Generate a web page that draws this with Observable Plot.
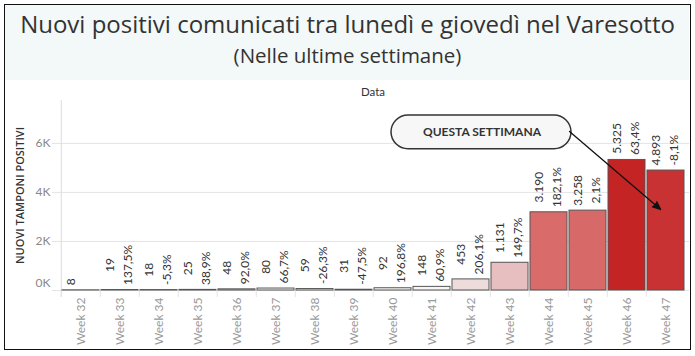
<!DOCTYPE html>
<html>
<head>
<meta charset="utf-8">
<script src="https://cdn.jsdelivr.net/npm/d3@7"></script>
<script src="https://cdn.jsdelivr.net/npm/@observablehq/plot@0.6"></script>
<style>
  body { margin: 0; background: #fff; font-family: Lato, "Open Sans", sans-serif; }
  #page { position: relative; width: 695px; height: 356px; overflow: hidden; background: #fff; }
  #band { position: absolute; left: 5px; top: 5px; width: 684px; height: 75px; background: #f3f8f8; }
  #title { position: absolute; left: 0; top: 7px; width: 695px; text-align: center; font-family: "Open Sans", sans-serif; font-size: 24px; color: #333; white-space: nowrap; }
  #subtitle { position: absolute; left: 0; top: 41px; width: 695px; text-align: center; font-family: "Open Sans", sans-serif; font-size: 20.5px; color: #333; white-space: nowrap; }
  #header { position: absolute; left: 57px; top: 85px; width: 632px; text-align: center; font-size: 11.5px; color: #333; }
  #chart { position: absolute; left: 0; top: 80px; }
  #border { position: absolute; left: 4px; top: 4px; width: 687px; height: 346px; border: 1.5px solid #111; box-sizing: border-box; pointer-events: none; }
</style>
</head>
<body>
<div id="page">
  <div id="band"></div>
  <div id="title">Nuovi positivi comunicati tra lunedì e giovedì nel Varesotto</div>
  <div id="subtitle">(Nelle ultime settimane)</div>
  <div id="header">Data</div>
  <div id="chart"></div>
  <div id="border"></div>
</div>
<script>
// ---- data ----
const weeks = ["Week 32","Week 33","Week 34","Week 35","Week 36","Week 37","Week 38","Week 39",
               "Week 40","Week 41","Week 42","Week 43","Week 44","Week 45","Week 46","Week 47"];
const positives = [8, 19, 18, 25, 48, 80, 59, 31, 92, 148, 453, 1131, 3190, 3258, 5325, 4893];
const changeLabels = ["", "137,5%", "-5,3%", "38,9%", "92,0%", "66,7%", "-26,3%", "-47,5%",
                      "196,8%", "60,9%", "206,1%", "149,7%", "182,1%", "2,1%", "63,4%", "-8,1%"];
const yTicks = [0, 2000, 4000, 6000];
const yTickLabels = ["0K", "2K", "4K", "6K"];
const colorStops = [0, 453, 1131, 3190, 5325];
const colorRange = ["#ffffff", "#eedcdc", "#e8bfc0", "#d96b6b", "#c42424"];
const yAxisTitle = "NUOVI TAMPONI POSITIVI";
const calloutText = "QUESTA SETTIMANA";
const calloutAnchorWeek = "Week 42";
const arrowFromWeek = "Week 44";
const arrowToWeek = "Week 47";

// ---- build ----
const it = d3.formatLocale({decimal: ",", thousands: ".", grouping: [3], currency: ["", "€"]});
const fmtInt = it.format(",");
const rows = weeks.map((w, i) => ({week: w, value: positives[i], change: changeLabels[i]}));

const W = 695, H = 270, mL = 57, mR = 6, mT = 20, mB = 60;
const step = (W - mL - mR) / weeks.length;
const tickLab = d => yTickLabels[yTicks.indexOf(d)];
const labelSize = 12, labelLineHeight = 1.5;

const chart = Plot.plot({
  width: W, height: H,
  marginLeft: mL, marginRight: mR, marginTop: mT, marginBottom: mB,
  style: {fontFamily: "Lato, 'Open Sans', sans-serif", background: "transparent", overflow: "visible"},
  x: {type: "band", domain: weeks, padding: 0.05, label: null, axis: null},
  y: {domain: [0, 7750], label: null, axis: null},
  color: {type: "linear", domain: colorStops, range: colorRange},
  marks: [
    Plot.gridY(yTicks, {stroke: "#e4e4e4", strokeOpacity: 1, insetLeft: -5}),
    Plot.ruleX([weeks[0]], {dx: -step / 2, stroke: "#dcdcdc", insetBottom: -7}),
    Plot.axisX({tickSize: 7, tickFormat: () => "", dx: -step / 2, stroke: "#e4e4e4", label: null}),
    Plot.axisX({tickSize: 0, tickRotate: -90, tickPadding: 7, fontSize: 12, fill: "#999", label: null}),
    Plot.axisY(yTicks.slice(1), {tickSize: 0, tickPadding: 7, tickFormat: tickLab, fontSize: 12, fill: "#888", label: null}),
    Plot.axisY(yTicks.slice(0, 1), {tickSize: 0, tickPadding: 7, tickFormat: tickLab, fontSize: 12, fill: "#888", dy: -7, label: null}),
    Plot.text([yAxisTitle], {frameAnchor: "left", textAnchor: "middle", rotate: -90, dx: -37, fontSize: 11,
      fontWeight: 600, fontFamily: "'Open Sans', sans-serif", fill: "#333", text: d => d}),
    Plot.barY(rows, {x: "week", y: "value", fill: "value", stroke: "#555", strokeWidth: 1}),
    Plot.text(rows, {x: "week", y: "value", text: d => d.change ? `${fmtInt(d.value)}\n${d.change}` : fmtInt(d.value),
      rotate: -90, textAnchor: "middle", lineAnchor: "middle", lineHeight: labelLineHeight, fontSize: labelSize, fill: "#333"}),
    Plot.barY([calloutText], {x: () => calloutAnchorWeek, y1: () => 5760, y2: () => 7140,
      insetLeft: -61, insetRight: -82, rx: 17, fill: "#f7f7f7", stroke: "#333", strokeWidth: 1.5}),
    Plot.text([calloutText], {x: () => calloutAnchorWeek, y: () => 6450, dx: 11, text: d => d,
      fontSize: 12, fontWeight: 700, fill: "#333"}),
    Plot.arrow([calloutText], {x1: () => arrowFromWeek, y1: () => 7200, x2: () => arrowToWeek, y2: () => 3120,
      insetStart: 27, insetEnd: 7, headLength: 10, headAngle: 45, stroke: "#111", fill: "#111", strokeWidth: 1.3})
  ]
});
document.getElementById("chart").appendChild(chart);

// Centre the two label lines on each other and sit the block just above its bar.
// A single-line label keeps the slot of the first line (as in the original).
const gap = 5, nudge = -3;
chart.querySelectorAll('g[aria-label="text"]').forEach(g => {
  if (g.children.length !== weeks.length) return;
  for (const t of g.querySelectorAll("text")) {
    const spans = t.querySelectorAll("tspan");
    let max = 0, shiftX = nudge;
    if (spans.length >= 2) {
      for (const s of spans) max = Math.max(max, s.getComputedTextLength());
    } else {
      max = t.getComputedTextLength();
      shiftX = nudge - labelSize * labelLineHeight / 2;
    }
    const tr = t.getAttribute("transform") || "";
    t.setAttribute("transform", `translate(${shiftX},${-(gap + max / 2)}) ${tr}`);
  }
});
</script>
</body>
</html>
